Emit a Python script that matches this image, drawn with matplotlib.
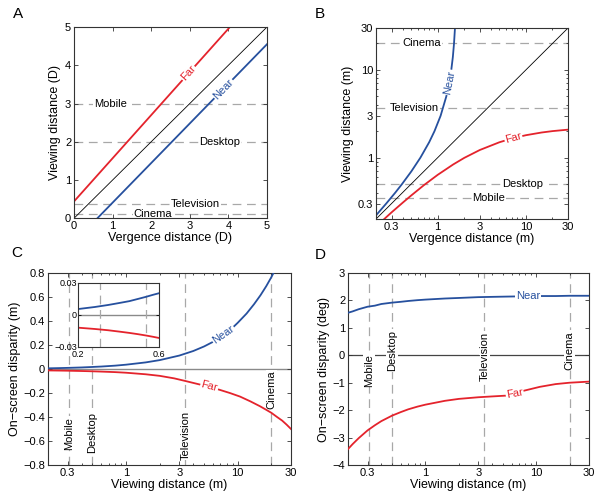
import numpy as np
import matplotlib.pyplot as plt
from matplotlib.ticker import FixedLocator, LogLocator, NullFormatter, NullLocator

plt.rcParams['font.family'] = ['Liberation Sans', 'DejaVu Sans']
plt.rcParams['axes.linewidth'] = 0.8
plt.rcParams['axes.edgecolor'] = '#333333'

RED = '#e4232c'
BLUE = '#26509e'
GRAY = '#a8a8a8'

# ---- panel A (diopters) ----
far_a_verg = [0.0, 4.04]
far_a_view = [0.44, 5.0]
near_a_verg = [0.605, 5.0]
near_a_view = [0.0, 4.55]
screens = ['Mobile', 'Desktop', 'Television', 'Cinema']
screens_a_view = [3.0, 2.0, 0.37, 0.12]
screens_a_labx = [0.95, 3.78, 3.14, 2.05]

# ---- panel B (meters) ----
near_b_view = [0.22, 0.3, 0.4, 0.5, 0.7, 1, 1.5, 2, 3, 5, 7, 10, 14, 20, 30]
near_b_verg = [0.200, 0.261, 0.331, 0.394, 0.504, 0.637, 0.801, 0.919, 1.079,
               1.253, 1.346, 1.426, 1.485, 1.531, 1.570]
far_b_verg = [0.248, 0.3, 0.4, 0.5, 0.7, 1, 1.5, 2, 3, 5, 7, 10, 15, 20, 30]
far_b_view = [0.200, 0.238, 0.306, 0.370, 0.487, 0.637, 0.837, 0.994, 1.222,
              1.497, 1.658, 1.802, 1.933, 2.006, 2.085]
screens_b_view = [0.35, 0.5, 3.7, 20]
screens_b_labx = [3.8, 9.2, 0.55, 0.66]

# ---- panel C (on-screen disparity, m) ----
near_c_view = [0.2, 0.25, 0.3, 0.35, 0.4, 0.45, 0.5, 0.55, 0.6, 0.8, 1, 1.5, 2, 3,
               4, 5, 6, 7, 8.5, 10, 12, 14, 16, 18, 20, 22]
near_c_disp = [0.0056, 0.0075, 0.0094, 0.0113, 0.013, 0.0151, 0.017, 0.0189, 0.0205,
               0.028, 0.036, 0.055, 0.074, 0.112, 0.150, 0.188, 0.226, 0.264, 0.322,
               0.385, 0.462, 0.540, 0.615, 0.690, 0.765, 0.840]
far_c_view = [0.2, 0.25, 0.3, 0.35, 0.4, 0.45, 0.5, 0.55, 0.6, 0.8, 1, 1.5, 2, 2.7,
              3.4, 4.75, 6.7, 8.5, 10.5, 13, 15.8, 18, 20, 22.5, 25, 27.5, 30]
far_c_disp = [-0.0119, -0.0131, -0.0143, -0.0156, -0.0168, -0.018, -0.0192, -0.0204,
              -0.0216, -0.026, -0.031, -0.044, -0.057, -0.078, -0.100, -0.133, -0.170,
              -0.200, -0.230, -0.270, -0.310, -0.340, -0.365, -0.400, -0.430, -0.465,
              -0.500]
c_yticks = [-0.8, -0.6, -0.4, -0.2, 0, 0.2, 0.4, 0.6, 0.8]

# ---- panel D (on-screen disparity, deg) ----
d_view = [0.2, 0.22, 0.25, 0.3, 0.35, 0.4, 0.5, 0.6, 0.7, 0.85, 1, 1.5, 2, 3, 4,
          5.4, 7.6, 10.8, 15, 20, 30]
near_d_disp = [1.55, 1.60, 1.68, 1.77, 1.81, 1.87, 1.92, 1.95, 1.98, 2.01, 2.03,
               2.07, 2.09, 2.12, 2.13, 2.14, 2.15, 2.16, 2.16, 2.17, 2.17]
far_d_disp = [-3.42, -3.24, -3.02, -2.74, -2.55, -2.40, -2.20, -2.07, -1.97, -1.87,
              -1.80, -1.66, -1.59, -1.53, -1.50, -1.47, -1.30, -1.15, -1.05, -1.00,
              -0.96]

screens_cd = [0.31, 0.5, 3.4, 20]
screens_c_laby = [-0.535, -0.53, -0.55, -0.175]
screens_d_laby = [-0.54, 0.18, -0.05, 0.18]
inset_lines = [0.27, 0.5]

log_ticks = [0.3, 1, 3, 10, 30]
log_labels = ['0.3', '1', '3', '10', '30']

TICK = 8
LAB = 9
ANN = 8
box = dict(fc='white', ec='none', pad=0.6)
dash = dict(color=GRAY, lw=0.9, dashes=(7, 4.5), zorder=1)


def style(ax):
    ax.tick_params(which='both', direction='in', top=True, right=True,
                   labelsize=TICK, width=0.6, color='#333333', pad=2)
    ax.tick_params(which='major', length=3)
    ax.tick_params(which='minor', length=1.6)


def log_x(ax):
    ax.set_xscale('log')
    ax.xaxis.set_major_locator(FixedLocator(log_ticks))
    ax.set_xticklabels(log_labels)
    ax.xaxis.set_minor_locator(LogLocator(subs=np.arange(2, 10)))
    ax.xaxis.set_minor_formatter(NullFormatter())


fig = plt.figure(figsize=(6, 5), dpi=100)

# A
ax = fig.add_axes([0.1233, 0.5634, 0.3217, 0.3826])
ax.plot([0, 5], [0, 5], color='black', lw=0.6)
ax.plot(far_a_verg, far_a_view, color=RED, lw=1.3)
ax.plot(near_a_verg, near_a_view, color=BLUE, lw=1.3)
for name, yv, xl in zip(screens, screens_a_view, screens_a_labx):
    ax.axhline(yv, **dash)
    ax.text(xl, yv, name, ha='center', va='center', fontsize=ANN, bbox=box, zorder=2)
ax.text(2.96, 3.80, 'Far', color=RED, fontsize=ANN, rotation=48, ha='center',
        va='center', bbox=box, zorder=3)
ax.text(3.87, 3.38, 'Near', color=BLUE, fontsize=ANN, rotation=46, ha='center',
        va='center', bbox=box, zorder=3)
ax.set_xlim(0, 5)
ax.set_ylim(0, 5)
ax.set_xticks(range(6))
ax.set_yticks(range(6))
ax.set_xlabel('Vergence distance (D)', fontsize=LAB, labelpad=1)
ax.set_ylabel('Viewing distance (D)', fontsize=LAB, labelpad=3)
style(ax)

# B
ax = fig.add_axes([0.6267, 0.562, 0.32, 0.382])
ax.plot([0.2, 30], [0.2, 30], color='black', lw=0.6)
ax.plot(near_b_verg, near_b_view, color=BLUE, lw=1.3)
ax.plot(far_b_verg, far_b_view, color=RED, lw=1.3)
for name, yv, xl in zip(screens, screens_b_view, screens_b_labx):
    ax.axhline(yv, **dash)
    ax.text(xl, yv, name, ha='center', va='center', fontsize=ANN, bbox=box, zorder=2)
ax.text(1.35, 7.2, 'Near', color=BLUE, fontsize=ANN, rotation=79, ha='center',
        va='center', bbox=box, zorder=3)
ax.text(7.2, 1.68, 'Far', color=RED, fontsize=ANN, rotation=15, ha='center',
        va='center', bbox=box, zorder=3)
log_x(ax)
ax.set_yscale('log')
ax.yaxis.set_major_locator(FixedLocator(log_ticks))
ax.set_yticklabels(log_labels)
ax.yaxis.set_minor_locator(LogLocator(subs=np.arange(2, 10)))
ax.yaxis.set_minor_formatter(NullFormatter())
ax.set_xlim(0.2, 30)
ax.set_ylim(0.2, 30)
ax.set_xlabel('Vergence distance (m)', fontsize=LAB, labelpad=1)
ax.set_ylabel('Viewing distance (m)', fontsize=LAB, labelpad=3)
style(ax)

# C
ax = fig.add_axes([0.08, 0.07, 0.405, 0.384])
ax.axhline(0, color='#8a8a8a', lw=1.0, zorder=1)
for name, xv, yl in zip(screens, screens_cd, screens_c_laby):
    ax.axvline(xv, **dash)
    ax.text(xv, yl, name, rotation=90, ha='center', va='center', fontsize=ANN,
            bbox=box, zorder=2)
ax.plot(near_c_view, near_c_disp, color=BLUE, lw=1.3, zorder=3)
ax.plot(far_c_view, far_c_disp, color=RED, lw=1.3, zorder=3)
ax.text(7.4, 0.29, 'Near', color=BLUE, fontsize=ANN, rotation=35, ha='center',
        va='center', bbox=box, zorder=4)
ax.text(5.56, -0.147, 'Far', color=RED, fontsize=ANN, rotation=-15, ha='center',
        va='center', bbox=box, zorder=4)
log_x(ax)
ax.set_xlim(0.2, 30)
ax.set_ylim(-0.8, 0.8)
ax.set_yticks(c_yticks)
ax.set_yticklabels(['0' if v == 0 else f'{v:g}'.replace('-', '\u2212') for v in c_yticks])
ax.set_xlabel('Viewing distance (m)', fontsize=LAB, labelpad=1)
ax.set_ylabel('On\u2212screen disparity (m)', fontsize=LAB, labelpad=2)
style(ax)

# inset of C
ins = fig.add_axes([0.1305, 0.306, 0.135, 0.128])
ins.axhline(0, color='#8a8a8a', lw=1.0, zorder=1)
for xv in inset_lines:
    ins.axvline(xv, **dash)
ins.plot(near_c_view, near_c_disp, color=BLUE, lw=1.3)
ins.plot(far_c_view, far_c_disp, color=RED, lw=1.3)
ins.set_xscale('log')
ins.set_xlim(0.2, 0.6)
ins.set_ylim(-0.03, 0.03)
ins.xaxis.set_major_locator(FixedLocator([0.2, 0.6]))
ins.set_xticklabels(['0.2', '0.6'])
ins.xaxis.set_minor_locator(NullLocator())
ins.set_yticks([-0.03, 0, 0.03])
ins.set_yticklabels(['\u22120.03', '0', '0.03'])
ins.tick_params(direction='in', top=True, right=True, labelsize=6.5, length=2,
                width=0.6, pad=1)
ins.tick_params(axis='x', pad=2.5)

# D
ax = fig.add_axes([0.58, 0.07, 0.4017, 0.384])
ax.axhline(0, color='#444444', lw=0.9, zorder=1)
for name, xv, yl in zip(screens, screens_cd, screens_d_laby):
    ax.axvline(xv, **dash)
    ax.text(xv, yl, name, rotation=90, ha='center', va='center', fontsize=ANN,
            bbox=box, zorder=2)
ax.plot(d_view, near_d_disp, color=BLUE, lw=1.3, zorder=3)
ax.plot(d_view, far_d_disp, color=RED, lw=1.3, zorder=3)
ax.text(8.5, 2.16, 'Near', color=BLUE, fontsize=ANN, ha='center', va='center',
        bbox=box, zorder=4)
ax.text(6.4, -1.40, 'Far', color=RED, fontsize=ANN, rotation=10, ha='center',
        va='center', bbox=box, zorder=4)
log_x(ax)
ax.set_xlim(0.2, 30)
ax.set_ylim(-4, 3)
ax.set_yticks(range(-4, 4))
ax.set_xlabel('Viewing distance (m)', fontsize=LAB, labelpad=1)
ax.set_ylabel('On\u2212screen disparity (deg)', fontsize=LAB, labelpad=2)
style(ax)

for letter, x, y in [('A', 0.03, 0.972), ('B', 0.533, 0.972),
                     ('C', 0.028, 0.494), ('D', 0.533, 0.49)]:
    fig.text(x, y, letter, fontsize=11, ha='center', va='center')

fig.savefig('out.png', dpi=100)
